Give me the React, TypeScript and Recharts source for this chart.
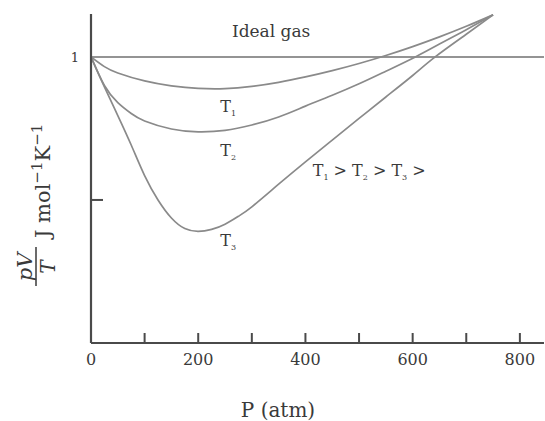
import { LineChart, Line, XAxis, YAxis, ReferenceDot } from 'recharts';

// pressure axis (atm)
const pressureTicks = [0, 100, 200, 300, 400, 500, 600, 700, 800];
const labelledPressures = [0, 200, 400, 600, 800];
const yTicks = [0.5, 1];

// ideal gas: pV/T constant
const idealP = [0, 845];
const idealV = [1, 1];

// real gas at T1 (highest temperature)
const t1P = [0, 25, 50, 100, 150, 200, 250, 300, 350, 400, 450, 500, 550, 600, 650, 700, 750];
const t1V = [1, 0.966, 0.944, 0.916, 0.899, 0.89, 0.889, 0.897, 0.911, 0.93, 0.952, 0.977, 1.005, 1.036, 1.07, 1.107, 1.147];

// T2
const t2P = [0, 25, 50, 75, 100, 150, 200, 250, 300, 350, 400, 450, 500, 550, 605, 650, 700, 750];
const t2V = [1, 0.9, 0.84, 0.802, 0.776, 0.748, 0.738, 0.743, 0.762, 0.79, 0.828, 0.866, 0.906, 0.95, 1.0, 1.045, 1.095, 1.147];

// T3 (lowest temperature)
const t3P = [0, 25, 50, 75, 100, 125, 150, 175, 200, 225, 250, 275, 300, 350, 400, 450, 500, 550, 600, 642, 700, 750];
const t3V = [1, 0.895, 0.795, 0.692, 0.585, 0.5, 0.437, 0.4, 0.39, 0.397, 0.415, 0.443, 0.476, 0.555, 0.633, 0.709, 0.785, 0.86, 0.935, 1.0, 1.079, 1.147];

const toPoints = (ps: number[], vs: number[]) => ps.map((p, i) => ({ p, v: vs[i] }));

const AXIS = '#4a4a4a';
const CURVE = '#8a8a8a';
const TEXT = '#3a3a3a';
const FONT = '"DejaVu Serif", "Liberation Serif", serif';

function XTick({ x, y, payload }: any) {
  const v = payload.value;
  return (
    <g>
      {v !== 0 && <line x1={x} y1={y} x2={x} y2={y - 10} stroke={AXIS} strokeWidth={2} />}
      {labelledPressures.includes(v) && (
        <text x={x} y={y + 22} textAnchor="middle" fontFamily={FONT} fontSize={16} fill={TEXT}>
          {v}
        </text>
      )}
    </g>
  );
}

function YTick({ x, y, payload }: any) {
  if (payload.value === 1) {
    return (
      <text x={x - 16} y={y + 5} textAnchor="middle" fontFamily={FONT} fontSize={13} fill={TEXT}>
        1
      </text>
    );
  }
  return <line x1={x} y1={y} x2={x + 12} y2={y} stroke={AXIS} strokeWidth={2} />;
}

function YTitle() {
  return (
    <g transform="translate(43, 286) rotate(-90)" fill={TEXT} fontFamily={FONT}>
      <text x={19} y={-11} textAnchor="middle" fontStyle="italic" fontSize={21}>pV</text>
      <line x1={0} y1={-7} x2={39} y2={-7} stroke={TEXT} strokeWidth={1.5} />
      <text x={19} y={12} textAnchor="middle" fontStyle="italic" fontSize={20}>T</text>
      <text x={48} y={7} fontSize={21}>
        J mol<tspan dy={-8} fontSize={15}>−1</tspan>
        <tspan dy={8}>K</tspan>
        <tspan dy={-8} fontSize={15}>−1</tspan>
      </text>
    </g>
  );
}

function XTitle({ viewBox }: any) {
  return (
    <text x={278} y={viewBox.y + 74} textAnchor="middle" fontFamily={FONT} fontSize={20} fill={TEXT}>
      P (atm)
    </text>
  );
}

const note = (main: string, sub?: string) => ({ viewBox }: any) => (
  <text x={viewBox.x} y={viewBox.y + 6} textAnchor="middle" fontFamily={FONT} fontSize={sub ? 16 : 17} fill={TEXT}>
    {main}
    {sub && <tspan dy={4} fontSize={8}>{sub}</tspan>}
  </text>
);

function ChainNote({ viewBox }: any) {
  return (
    <text x={viewBox.x} y={viewBox.y + 6} textAnchor="middle" fontFamily={FONT} fontSize={16} fill={TEXT}>
      T<tspan dy={4} fontSize={8}>1</tspan>
      <tspan dy={-4}> &gt; T</tspan>
      <tspan dy={4} fontSize={8}>2</tspan>
      <tspan dy={-4}> &gt; T</tspan>
      <tspan dy={4} fontSize={8}>3</tspan>
      <tspan dy={-4}> &gt;</tspan>
    </text>
  );
}

export default function App() {
  return (
    <div style={{ position: 'absolute', left: 0, top: 0, background: '#fff' }}>
      <LineChart width={545} height={421} margin={{ top: 14, right: 1, bottom: 18, left: 0 }}>
        <XAxis
          type="number"
          dataKey="p"
          domain={[0, 845]}
          ticks={pressureTicks}
          interval={0}
          height={60}
          tickSize={0}
          tickMargin={0}
          tickLine={false}
          tick={<XTick />}
          axisLine={{ stroke: AXIS, strokeWidth: 2.2 }}
          allowDataOverflow
          label={{ content: <XTitle /> }}
        />
        <YAxis
          type="number"
          dataKey="v"
          domain={[0, 1.15]}
          ticks={yTicks}
          interval={0}
          width={91}
          tickSize={0}
          tickMargin={0}
          tickLine={false}
          tick={<YTick />}
          axisLine={{ stroke: AXIS, strokeWidth: 2.2 }}
          allowDataOverflow
          label={{ content: <YTitle /> }}
        />
        <Line data={toPoints(idealP, idealV)} dataKey="v" stroke="#707070" strokeWidth={1.5} dot={false} isAnimationActive={false} />
        <Line data={toPoints(t1P, t1V)} type="natural" dataKey="v" stroke={CURVE} strokeWidth={1.7} dot={false} isAnimationActive={false} />
        <Line data={toPoints(t2P, t2V)} type="natural" dataKey="v" stroke={CURVE} strokeWidth={1.7} dot={false} isAnimationActive={false} />
        <Line data={toPoints(t3P, t3V)} type="natural" dataKey="v" stroke={CURVE} strokeWidth={1.7} dot={false} isAnimationActive={false} />
        <ReferenceDot x={336} y={1.09} r={0} stroke="none" label={{ content: note('Ideal gas') }} />
        <ReferenceDot x={256} y={0.83} r={0} stroke="none" label={{ content: note('T', '1') }} />
        <ReferenceDot x={256} y={0.675} r={0} stroke="none" label={{ content: note('T', '2') }} />
        <ReferenceDot x={256} y={0.36} r={0} stroke="none" label={{ content: note('T', '3') }} />
        <ReferenceDot x={519} y={0.605} r={0} stroke="none" label={{ content: <ChainNote /> }} />
      </LineChart>
    </div>
  );
}
